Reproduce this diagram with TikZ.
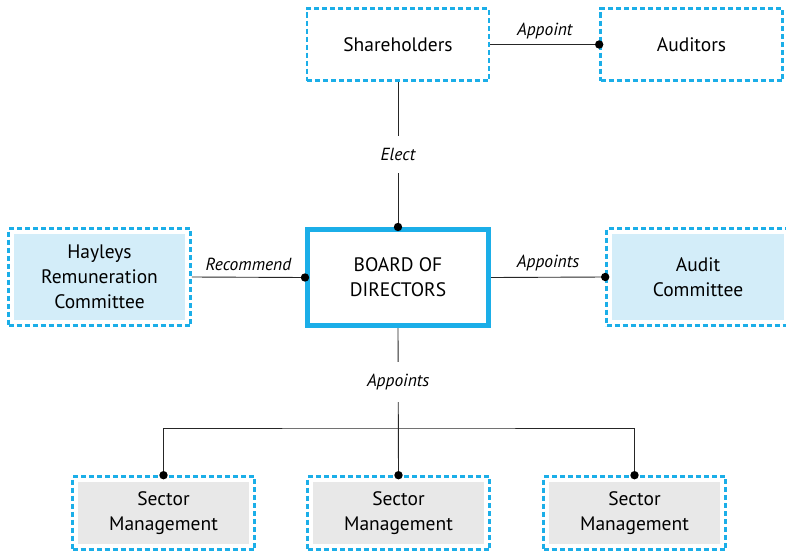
\documentclass[tikz,border=0pt]{standalone}
\usepackage{fontspec}
\setmainfont{PT Sans}
\definecolor{edgecyan}{HTML}{1BAEE8}
\definecolor{paleblue}{HTML}{D3EDF9}
\definecolor{palegray}{HTML}{E8E8E8}
\begin{document}
\begin{tikzpicture}[x=1pt,y=-1pt,
  panel/.style={draw=edgecyan, dash pattern=on 5pt off 3pt, line width=2.6pt,
    minimum width=182pt, align=center, inner sep=0pt,
    font=\fontsize{19.5}{25}\selectfont},
  shaded/.style={panel, path picture={
    \fill[#1] ([shift={(5.5pt,-5.5pt)}]path picture bounding box.north west)
      rectangle ([shift={(-5.5pt,5.5pt)}]path picture bounding box.south east);}},
  board/.style={draw=edgecyan, line width=5pt, minimum width=181pt,
    minimum height=96pt, align=center, inner sep=0pt,
    font=\fontsize{19.5}{25}\selectfont},
  link/.style={draw=black!85, line width=0.9pt},
  tag/.style={font=\fontsize{17.5}{20}\itshape, inner sep=0pt},
  gaptag/.style={tag, fill=white, inner xsep=2pt, inner ysep=12pt},
  dot/.style={fill=black}
]
\useasboundingbox (0,0) rectangle (786,554);

% top row
\node[panel, minimum height=72pt] (share) at (398,44.5) {Shareholders};
\node[panel, minimum height=72pt] (audit) at (691.5,44.5) {Auditors};

% middle row
\node[board] (bod) at (398,277.5) {BOARD OF\\DIRECTORS};
\node[shaded=paleblue, minimum height=97pt] (hrc) at (99.5,277) {Hayleys\\Remuneration\\Committee};
\node[shaded=paleblue, minimum height=97pt, minimum width=183pt] (ac) at (698,277) {Audit\\Committee};

% bottom row
\node[shaded=palegray, minimum height=73pt] (s1) at (163.5,513) {Sector\\Management};
\node[shaded=palegray, minimum height=73pt] (s2) at (398.5,513) {Sector\\Management};
\node[shaded=palegray, minimum height=73pt] (s3) at (634.5,513) {Sector\\Management};
\coordinate (bus) at (398.5,428);

% connectors
\draw[link] (share.east) -- node[tag, above=5pt] {Appoint} (share.east -| audit.west);
\fill[dot] (share.east -| audit.west) circle (4.2pt);

\draw[link] (share.south) -- node[gaptag, pos=0.5] {Elect} (bod.north);
\fill[dot] (bod.north) circle (4.2pt);

\draw[link] (hrc.east) -- node[tag, above=6pt] {Recommend} (bod.west);
\fill[dot] (bod.west) circle (4.2pt);

\draw[link] (bod.east) -- node[tag, above=6pt] {Appoints} (ac.west);
\fill[dot] (ac.west) circle (4.2pt);

\draw[link] (bod.south) -- node[gaptag, pos=0.365] {Appoints} (s2.north);
\draw[link] (s1.north) |- (bus) -| (s3.north);
\fill[dot] (s1.north) circle (4.2pt);
\fill[dot] (s2.north) circle (4.2pt);
\fill[dot] (s3.north) circle (4.2pt);
\end{tikzpicture}
\end{document}
